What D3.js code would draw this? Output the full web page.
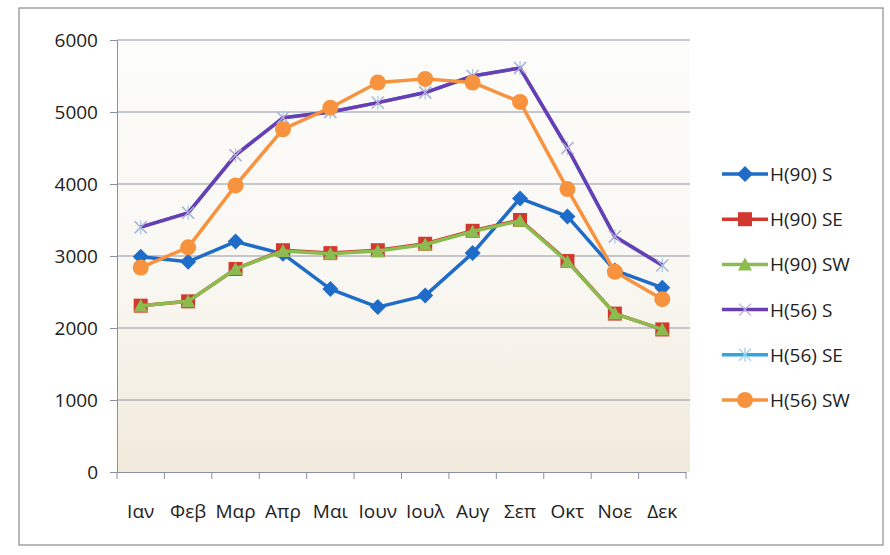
<!DOCTYPE html>
<html><head><meta charset="utf-8">
<script src="https://cdn.jsdelivr.net/npm/d3@7/dist/d3.min.js"></script>
<style>body{margin:0;background:#fff;}svg{display:block;}</style>
</head><body><svg id="c" width="890" height="555"></svg>
<script>
const months = ["Ιαν","Φεβ","Μαρ","Απρ","Μαι","Ιουν","Ιουλ","Αυγ","Σεπ","Οκτ","Νοε","Δεκ"];
const yTicks = [0,1000,2000,3000,4000,5000,6000];
const seriesNames = ["H(90) S","H(90) SE","H(90) SW","H(56) S","H(56) SE","H(56) SW"];
const h90S  = [2990,2920,3200,3030,2540,2290,2450,3040,3800,3550,2800,2560];
const h90SE = [2310,2370,2820,3080,3040,3080,3170,3350,3500,2930,2200,1980];
const h90SW = [2310,2370,2820,3070,3030,3070,3160,3340,3490,2920,2200,1980];
const h56S  = [3400,3600,4400,4920,5000,5130,5270,5500,5610,4500,3270,2870];
const h56SE = [3400,3600,4400,4920,5000,5130,5270,5500,5610,4500,3270,2870];
const h56SW = [2840,3120,3980,4760,5060,5410,5460,5410,5140,3930,2780,2400];

const colors = ["#1f6cc8","#d2382f","#8cbb4f","#6a3db4","#35a4dc","#f7923f"];
const markerTypes = ["diamond","square","triangle","x","star","circle"];
const data = [h90S,h90SE,h90SW,h56S,h56SE,h56SW];
const FONT = "'Open Sans',sans-serif";

const svg = d3.select("#c");
const L=117, R=686, T=40, B=472;
const x = d3.scaleBand().domain(months).range([L,R]);
const y = d3.scaleLinear().domain([0,6000]).range([B,T]);

// outer frame
svg.append("rect").attr("x",19).attr("y",8).attr("width",864).attr("height",537)
  .attr("fill","#fff").attr("stroke","#8a8a8a").attr("stroke-width",1.2);

// plot bg gradient
const defs = svg.append("defs");
const g = defs.append("linearGradient").attr("id","bg").attr("x1",0).attr("y1",0).attr("x2",0).attr("y2",1);
g.append("stop").attr("offset","0%").attr("stop-color","#fcfcfa");
g.append("stop").attr("offset","55%").attr("stop-color","#f9f7f2");
g.append("stop").attr("offset","100%").attr("stop-color","#f1eadb");
svg.append("rect").attr("x",L).attr("y",T).attr("width",R-L+4).attr("height",B-T).attr("fill","url(#bg)");

// gridlines
svg.append("g").selectAll("line").data(yTicks.filter(d=>d>0)).join("line")
  .attr("x1",L).attr("x2",R+4).attr("y1",d=>y(d)).attr("y2",d=>y(d))
  .attr("stroke","#8f95a6").attr("stroke-width",1);

// y axis
const ya = svg.append("g").attr("transform",`translate(${L},0)`)
  .call(d3.axisLeft(y).tickValues(yTicks).tickSize(7).tickPadding(12).tickFormat(d3.format("d")));
ya.select(".domain").attr("stroke","#8a8fa0");
ya.selectAll(".tick line").attr("stroke","#8a8fa0");
ya.selectAll("text").attr("font-family",FONT).attr("font-size",19).attr("fill","#222");

// x axis
const xa = svg.append("g").attr("transform",`translate(0,${B})`)
  .call(d3.axisBottom(x).tickSize(0).tickPadding(33));
xa.select(".domain").attr("stroke","#8a8fa0");
xa.selectAll("text").attr("font-family",FONT).attr("font-size",19).attr("fill","#222");
svg.append("g").selectAll("line").data(months.concat(["_end"])).join("line")
  .attr("x1",(d,i)=>L+i*x.step()).attr("x2",(d,i)=>L+i*x.step())
  .attr("y1",B).attr("y2",B+7).attr("stroke","#8a8fa0");

const cx = m => x(m)+x.bandwidth()/2;
const line = d3.line().x((d,i)=>cx(months[i])).y(d=>y(d));

function marker(sel, type, color){
  if(type==="diamond") sel.append("path").attr("d","M0,-8L8,0L0,8L-8,0Z").attr("fill",color);
  else if(type==="square") sel.append("rect").attr("x",-7).attr("y",-7).attr("width",14).attr("height",14).attr("fill",color);
  else if(type==="triangle") sel.append("path").attr("d","M0,-7L7,6L-7,6Z").attr("fill",color);
  else if(type==="x") sel.append("path").attr("d","M-6,-6L6,6M-6,6L6,-6").attr("stroke","#b7aed2").attr("stroke-width",1.3).attr("fill","none");
  else if(type==="star") sel.append("path").attr("d","M-6,-6L6,6M-6,6L6,-6M0,-7L0,7").attr("stroke","#9fd0ec").attr("stroke-width",1.3).attr("fill","none");
  else if(type==="circle") sel.append("circle").attr("r",8).attr("fill",color);
}

const order = [0,1,2,4,3,5];
order.forEach(si=>{
  const gs = svg.append("g");
  gs.append("path").attr("d",line(data[si])).attr("fill","none").attr("stroke",colors[si]).attr("stroke-width",3.5).attr("stroke-linejoin","round");
  gs.selectAll("g").data(data[si]).join("g")
    .attr("transform",(d,i)=>`translate(${cx(months[i])},${y(d)})`)
    .each(function(){ marker(d3.select(this), markerTypes[si], colors[si]); });
});

// legend
const lg = svg.append("g");
seriesNames.forEach((n,i)=>{
  const yy = 174 + i*45.2;
  const r = lg.append("g").attr("transform",`translate(0,${yy})`);
  r.append("line").attr("x1",722).attr("x2",768).attr("y1",0).attr("y2",0).attr("stroke",colors[i]).attr("stroke-width",3.5);
  const m = r.append("g").attr("transform","translate(745,0)");
  marker(m, markerTypes[i], colors[i]);
  r.append("text").attr("x",770).attr("y",7).text(n)
    .attr("font-family",FONT).attr("font-size",19).attr("fill","#222");
});
</script></body></html>
